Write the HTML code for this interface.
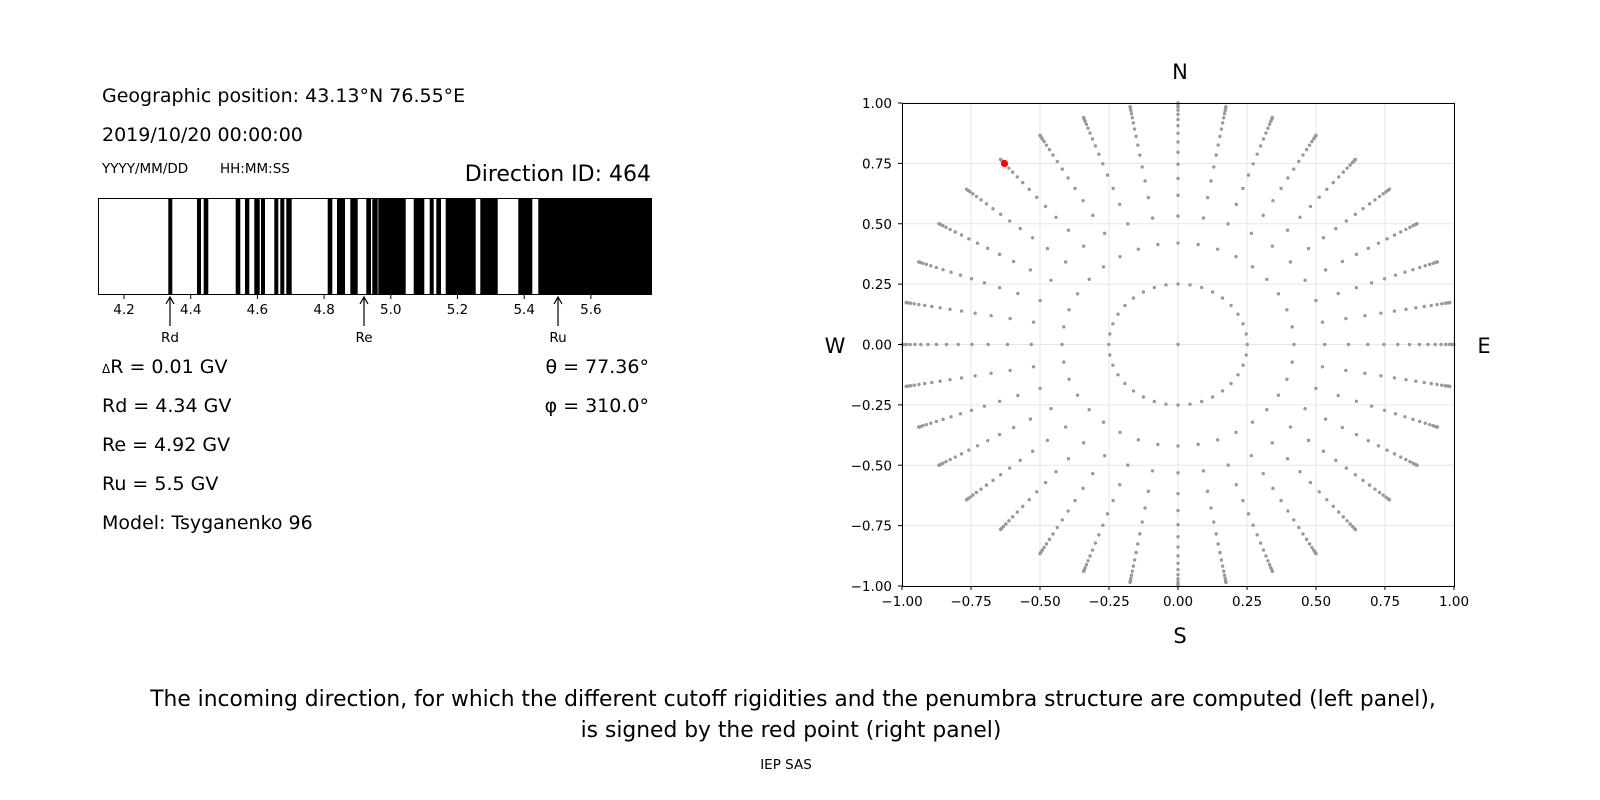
<!DOCTYPE html>
<html><head><meta charset="utf-8"><style>
body{margin:0;background:#fff;}
svg{display:block;font-family:"DejaVu Sans","Liberation Sans",sans-serif;}
</style></head><body>
<svg id="s" width="1600" height="800" viewBox="0 0 1600 800" xmlns="http://www.w3.org/2000/svg">
<rect width="1600" height="800" fill="#fff"/>
<g font-size="19" fill="#000">
<text x="102" y="102">Geographic position: 43.13°N 76.55°E</text>
<text x="102" y="141">2019/10/20 00:00:00</text>
<text x="102" y="173" font-size="13.5">YYYY/MM/DD</text>
<text x="220" y="173" font-size="13.5">HH:MM:SS</text>
<text x="651" y="181" font-size="22" text-anchor="end">Direction ID: 464</text>
<text x="102" y="373"><tspan font-size="12">Δ</tspan>R = 0.01 GV</text>
<text x="102" y="412">Rd = 4.34 GV</text>
<text x="102" y="451">Re = 4.92 GV</text>
<text x="102" y="490">Ru = 5.5 GV</text>
<text x="102" y="529">Model: Tsyganenko 96</text>
<text x="649" y="373" text-anchor="end">θ = 77.36°</text>
<text x="649" y="412" text-anchor="end">φ = 310.0°</text>
</g>
<g id="bars" fill="#000"></g>
<rect x="98.5" y="198.5" width="553" height="96" fill="none" stroke="#000" stroke-width="1"/>
<g id="bt" font-size="13.5" text-anchor="middle"></g>
<g stroke="#000" stroke-width="1.2" fill="none">
<path d="M170 326V298M166 304l4-7 4 7"/>
<path d="M364 326V298M360 304l4-7 4 7"/>
<path d="M558 326V298M554 304l4-7 4 7"/>
</g>
<g font-size="13.5" text-anchor="middle"><text x="170" y="342">Rd</text><text x="364" y="342">Re</text><text x="558" y="342">Ru</text></g>
<g id="grid" stroke="#e6e6e6" stroke-width="1"></g>
<g id="pts" fill="#999"></g>
<circle cx="1004.5" cy="163.5" r="3.6" fill="#f00"/>
<rect x="902.5" y="103.5" width="552" height="483" fill="none" stroke="#000" stroke-width="1"/>
<g id="ax" font-size="13.5"></g>
<g font-size="21" text-anchor="middle">
<text x="1180" y="79">N</text><text x="1180" y="643">S</text>
<text x="835" y="353">W</text><text x="1484" y="353">E</text>
</g>
<g font-size="21.8" text-anchor="middle">
<text x="793" y="706">The incoming direction, for which the different cutoff rigidities and the penumbra structure are computed (left panel),</text>
<text x="791" y="737">is signed by the red point (right panel)</text>
</g>
<text x="786" y="769" font-size="13.5" text-anchor="middle">IEP SAS</text>
</svg>
<script>
var NS="http://www.w3.org/2000/svg";
function el(p,t,a,txt){var e=document.createElementNS(NS,t);for(var k in a)e.setAttribute(k,a[k]);if(txt!==undefined)e.textContent=txt;document.getElementById(p).appendChild(e);}
var bars=[[168.3,172.3],[197,201],[203.7,208.3],[235.7,240.3],[245,249.3],[254.3,259.7],[261,265],[274.3,278.3],[280.3,284.3],[286.3,291.7],[327.7,332.3],[337,345],[350.3,357.7],[366.3,371],[372.3,377.7],[378.3,405.7],[413.7,424.3],[429.7,433.7],[436.3,441],[445.7,475.7],[480.3,497.7],[518.3,532.3],[538.3,651]];
bars.forEach(function(b){el("bars","rect",{x:b[0],y:198,width:b[1]-b[0],height:97});});
for(var i=0;i<8;i++){var v=4.2+0.2*i,x=124+i*66.7;el("bt","line",{x1:x,x2:x,y1:295,y2:299,stroke:"#000"});el("bt","text",{x:x,y:314},v.toFixed(1));}
var X=function(u){return 1178+u*276},Y=function(v){return 344.5-v*241.5};
var tk=[-1,-0.75,-0.5,-0.25,0,0.25,0.5,0.75,1];
function f(t){return (t<0?"\u2212":"")+Math.abs(t).toFixed(2);}
tk.forEach(function(t){
el("grid","line",{x1:X(t),x2:X(t),y1:103,y2:586});
el("grid","line",{y1:Y(t),y2:Y(t),x1:902,x2:1454});
el("ax","line",{x1:X(t),x2:X(t),y1:586,y2:590,stroke:"#000"});
el("ax","text",{x:X(t),y:606,"text-anchor":"middle"},f(t));
el("ax","line",{y1:Y(t),y2:Y(t),x1:898,x2:902,stroke:"#000"});
el("ax","text",{x:892,y:Y(t)+5,"text-anchor":"end"},f(t));
});
el("pts","circle",{cx:X(0),cy:Y(0),r:1.7});
for(var s=0;s<36;s++){var a=s*10*Math.PI/180;
for(var k=0;k<=16;k++){var c=0.968-0.0605*k;if(c<0)c=0;var r=Math.sqrt(1-c*c);
el("pts","circle",{cx:X(r*Math.cos(a)),cy:Y(r*Math.sin(a)),r:1.7});}}
</script>
</body></html>
